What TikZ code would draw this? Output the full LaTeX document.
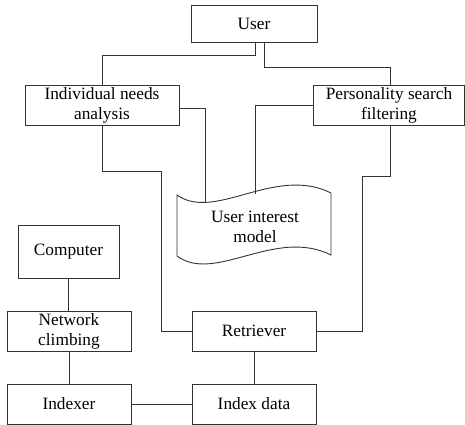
\documentclass[tikz,border=0pt]{standalone}
\usepackage{fontspec}
\setmainfont{Liberation Serif}
\begin{document}
\begin{tikzpicture}[x=1pt,y=-1pt,
  box/.style={draw=black!80,line width=0.9pt,inner sep=0pt,align=center,
    font=\fontsize{17.3}{20}\selectfont},
  conn/.style={draw=black!80,line width=0.9pt}]
\useasboundingbox (0,0) rectangle (465,424);
\node[box,minimum width=126pt,minimum height=37pt] (user) at (254,23.5) {User};
\node[box,minimum width=154pt,minimum height=40pt] (ina) at (102,105) {Individual needs\\analysis};
\node[box,minimum width=151pt,minimum height=40pt] (psf) at (389,105) {Personality search\\filtering};
\node[box,minimum width=101pt,minimum height=53pt] (comp) at (68.5,251.5) {Computer};
\node[box,minimum width=124pt,minimum height=40pt] (net) at (69,331) {Network\\climbing};
\node[box,minimum width=124pt,minimum height=40pt] (idx) at (69,404) {Indexer};
\node[box,minimum width=124pt,minimum height=40pt] (ret) at (254,331) {Retriever};
\node[box,minimum width=124pt,minimum height=40pt] (idd) at (254,404) {Index data};
% document shape
\draw[conn] (177,195) .. controls (215,222) and (275,165) .. (331,193)
  -- (331,255) .. controls (275,227) and (215,284) .. (177,256) -- cycle;
\node[font=\fontsize{17.3}{20}\selectfont,align=center,inner sep=0pt] (uim) at (255,227) {User interest\\model};
\coordinate (c1) at (205,203);
\coordinate (c2) at (255,193.5);
% connectors
\draw[conn] ([xshift=1pt]user.south) -- ++(0,13) -| (ina.north);
\draw[conn] ([xshift=10pt]user.south) -- ++(0,25) -| ([xshift=1pt]psf.north);
\draw[conn] ([yshift=-3pt]ina.east) -| (c1);
\draw[conn] (psf.west) -| (c2);
\draw[conn] (ina.south) -- ++(0,46) -| ([xshift=-30pt]ret.west) -- (ret.west);
\draw[conn] ([xshift=1pt]psf.south) -- ++(0,51) -| ([xshift=46pt]ret.east) -- (ret.east);
\draw[conn] (comp.south) -- (comp.south |- net.north);
\draw[conn] (net.south) -- (idx.north);
\draw[conn] (ret.south) -- (idd.north);
\draw[conn] (idx.east) -- (idd.west);
\end{tikzpicture}
\end{document}
